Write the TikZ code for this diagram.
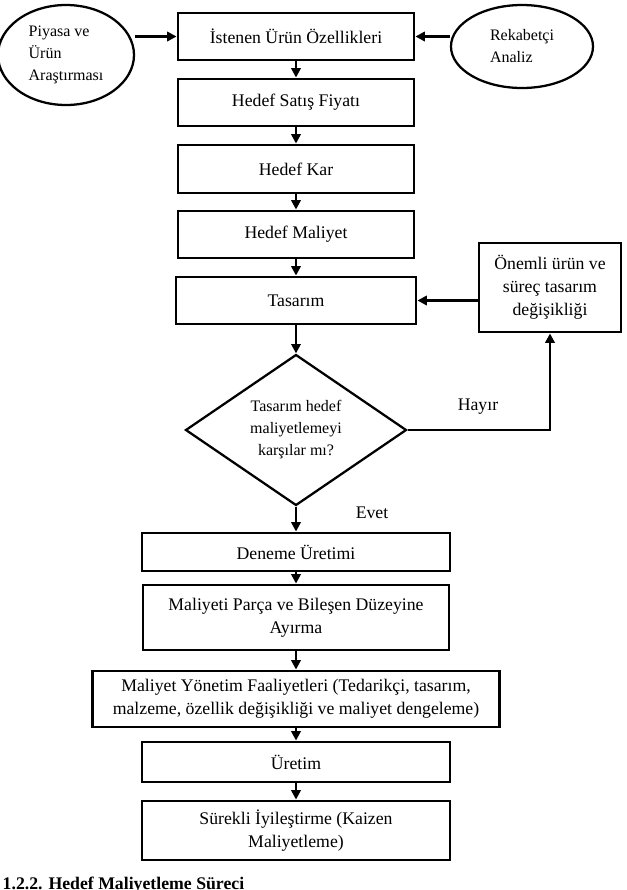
\documentclass[tikz,border=0pt]{standalone}
\usepackage{fontspec}
\setmainfont{Liberation Serif}
\usetikzlibrary{shapes.geometric,arrows.meta}

\begin{document}
\begin{tikzpicture}[x=0.75pt, y=-0.75pt,
  box/.style = {shape=rectangle, draw, line width=2.2pt,
    align=center, inner sep=0pt,
    font=\fontsize{13.3}{17.25}\selectfont},
  oval/.style = {shape=ellipse, draw, line width=1.7pt,
    align=left, inner sep=0pt,
    font=\fontsize{12}{16.5}\selectfont},
  decision/.style = {shape=diamond, draw, line width=1.7pt,
    align=center, inner sep=0pt, aspect=1.46,
    font=\fontsize{12}{16.5}\selectfont},
  tag/.style = {font=\fontsize{13.3}{16}\selectfont},
  flow/.style = {line width=1.7pt, -{Triangle[length=7pt,width=7pt]}}]
  \useasboundingbox (0,0) rectangle (627,890);
  \node[box, minimum width=177pt, minimum height=35.25pt] (want) at (296,36.5)
    {İstenen Ürün Özellikleri};
  \node[box, minimum width=177pt, minimum height=35.25pt] (price) at (296,102.5)
    {Hedef Satış Fiyatı};
  \node[box, minimum width=177pt, minimum height=36pt] (profit) at (296,169)
    {Hedef Kar};
  \node[box, minimum width=177pt, minimum height=35.25pt] (cost) at (296,234.5)
    {Hedef Maliyet};
  \node[box, minimum width=180pt, minimum height=35.25pt] (design) at (296,300.5)
    {Tasarım};
  \node[decision, minimum width=165.75pt, minimum height=113.25pt] (check) at (296,430)
    {Tasarım hedef\\maliyetlemeyi\\karşılar mı?};
  \node[box, minimum width=106.5pt, minimum height=66.75pt] (change) at (550,287.5)
    {Önemli ürün ve\\süreç tasarım\\değişikliği};
  \node[box, minimum width=231pt, minimum height=28.5pt] (trial) at (296,552)
    {Deneme Üretimi};
  \node[box, minimum width=229.5pt, minimum height=48.75pt] (split) at (296,617.5)
    {Maliyeti Parça ve Bileşen Düzeyine\\Ayırma};
  \node[box, minimum width=305.25pt, minimum height=42pt] (manage) at (296,699)
    {Maliyet Yönetim Faaliyetleri (Tedarikçi, tasarım,\\malzeme, özellik değişikliği ve maliyet dengeleme)};
  \node[box, minimum width=231pt, minimum height=30pt] (production) at (296,762)
    {Üretim};
  \node[box, minimum width=231pt, minimum height=44.25pt] (kaizen) at (296,830.5)
    {Sürekli İyileştirme (Kaizen\\Maliyetleme)};
  \node[oval, minimum width=102pt, minimum height=75pt] (market) at (66,55)
    {Piyasa ve\\Ürün\\Araştırması};
  \node[oval, minimum width=106.5pt, minimum height=62.25pt] (rival) at (522,46.5)
    {Rekabetçi\\Analiz};
  \node[tag] (no) at (478,407) {Hayır};
  \node[tag] (yes) at (372,513) {Evet};
  \node[anchor=base west, font=\bfseries\fontsize{13.3}{16}\selectfont] (caption)
    at (-2,889) {1.2.2. Hedef Maliyetleme Süreci};
  \draw[flow] (market.east |- want) -- (want);
  \draw[flow] (rival.west |- want) -- (want);
  \draw[flow] (want) -- (price);
  \draw[flow] (price) -- (profit);
  \draw[flow] (profit) -- (cost);
  \draw[flow] (cost) -- (design);
  \draw[flow] (design) -- (check);
  \draw[flow] (check.east) -| (change.south);
  \draw[flow] (change.west |- design) -- (design);
  \draw[flow] (check) -- (trial);
  \draw[flow] (trial) -- (split);
  \draw[flow] (split) -- (manage);
  \draw[flow] (manage) -- (production);
  \draw[flow] (production) -- (kaizen);
\end{tikzpicture}
\end{document}
